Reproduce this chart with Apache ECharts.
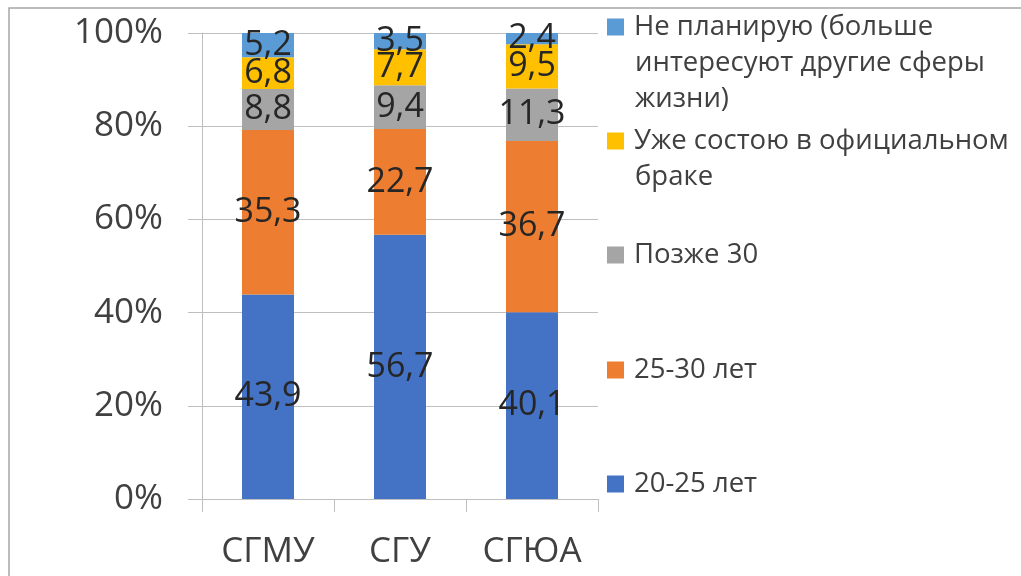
<!DOCTYPE html>
<html lang="ru">
<head>
    <meta charset="UTF-8">
    <title>Планы на брак</title>
    <script src="https://cdn.jsdelivr.net/npm/echarts@6/dist/echarts.min.js"></script>
    <style>
        html, body { margin: 0; padding: 0; background: #fff; }
        #main { width: 1021px; height: 576px; }
    </style>
</head>
<body>
<div id="main"></div>
<script>
    // данные
    var categories = ['СГМУ', 'СГУ', 'СГЮА'];
    var age20_25 = [43.9, 56.7, 40.1];
    var age25_30 = [35.3, 22.7, 36.7];
    var after30 = [8.8, 9.4, 11.3];
    var married = [6.8, 7.7, 9.5];
    var notPlanning = [5.2, 3.5, 2.4];
    var yTicks = [0, 20, 40, 60, 80, 100];

    var seriesNames = ['20-25 лет', '25-30 лет', 'Позже 30',
        'Уже состою в официальном\nбраке',
        'Не планирую (больше\nинтересуют другие сферы\nжизни)'];
    var seriesData = [age20_25, age25_30, after30, married, notPlanning];
    var colors = ['#4472C4', '#ED7D31', '#A5A5A5', '#FFC000', '#5B9BD5'];

    var font = '"Open Sans", "Noto Sans", sans-serif';
    var lineH = 36;
    // центры значков легенды (сверху вниз: Не планирую ... 20-25 лет)
    var legendCenters = [27, 141, 255, 370, 484];

    var myChart = echarts.init(document.getElementById('main'));

    var series = seriesNames.map(function (name, i) {
        return {
            name: name,
            type: 'bar',
            stack: 'total',
            barWidth: 52,
            data: seriesData[i],
            itemStyle: { color: colors[i] },
            label: {
                show: true,
                position: 'inside',
                fontFamily: font,
                fontSize: 34,
                color: '#262626',
                formatter: function (p) {
                    return p.value.toFixed(1).replace('.', ',');
                }
            }
        };
    });

    // по легенде на каждый пункт; в легенде только первая строка,
    // остальные строки дописываются текстом ниже
    var legends = [];
    var legendTexts = [];
    for (var k = 0; k < 5; k++) {
        var name = seriesNames[4 - k];
        var lines = name.split('\n');
        legends.push({
            orient: 'vertical',
            left: 607,
            top: legendCenters[k] - lineH / 2,
            padding: 0,
            itemWidth: 27,
            itemHeight: 17,
            icon: 'path://M0,0L10,0L10,10L0,10Z',
            symbolKeepAspect: true,
            selectedMode: false,
            data: [name],
            formatter: function (n) { return n.split('\n')[0]; },
            textStyle: {
                fontFamily: font,
                fontSize: 27.5,
                lineHeight: lineH,
                color: '#404040'
            }
        });
        for (var j = 1; j < lines.length; j++) {
            legendTexts.push({
                type: 'text',
                left: 635,
                top: legendCenters[k] - lineH / 2 + j * lineH,
                silent: true,
                style: {
                    text: lines[j],
                    font: '27.5px ' + font,
                    lineHeight: lineH,
                    fill: '#404040'
                }
            });
        }
    }

    var option = {
        animation: false,
        backgroundColor: '#fff',
        textStyle: { fontFamily: font },
        grid: { left: 202, right: 423, top: 33, bottom: 77 },
        legend: legends,
        xAxis: {
            type: 'category',
            data: categories,
            axisLine: { lineStyle: { color: '#bfbfbf', width: 1 } },
            axisTick: { show: true, length: 13, lineStyle: { color: '#bfbfbf' } },
            axisLabel: { fontFamily: font, fontSize: 35, color: '#404040', margin: 36 }
        },
        yAxis: {
            type: 'value',
            min: yTicks[0],
            max: yTicks[yTicks.length - 1],
            interval: 20,
            axisLine: { show: true, lineStyle: { color: '#bfbfbf' } },
            axisTick: { show: true, length: 14, lineStyle: { color: '#bfbfbf' } },
            axisLabel: { fontFamily: font, fontSize: 35, color: '#404040', margin: 39, formatter: '{value}%' },
            splitLine: { lineStyle: { color: '#bfbfbf' } }
        },
        graphic: [{
            type: 'rect',
            shape: { x: 9, y: 8, width: 1100, height: 700 },
            style: { fill: 'none', stroke: '#a6a6a6', lineWidth: 1.5 },
            silent: true
        }].concat(legendTexts),
        series: series
    };

    myChart.setOption(option);
</script>
</body>
</html>
